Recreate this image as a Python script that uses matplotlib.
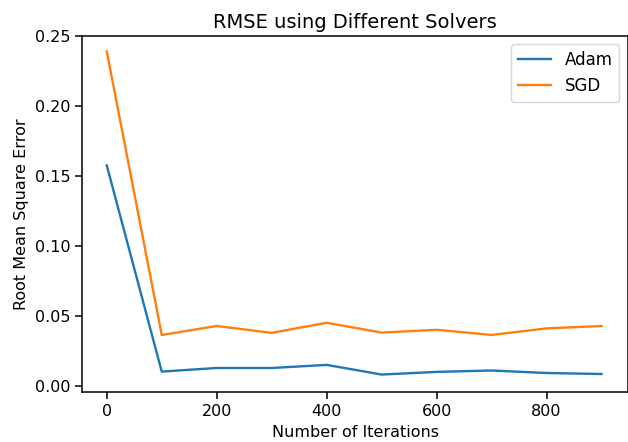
import matplotlib
matplotlib.use("Agg")
import matplotlib.pyplot as plt

# Iterations and RMSE
iterations = [0, 100, 200, 300, 400, 500, 600, 700, 800, 900]
adam_rmse = [0.1575, 0.0101, 0.0127, 0.0127, 0.0149, 0.0080, 0.0099, 0.0109, 0.0091, 0.0084]
sgd_rmse = [0.239, 0.0363, 0.0427, 0.0378, 0.0450, 0.0380, 0.0400, 0.0363, 0.0410, 0.0427]

plt.rcParams.update({
    "axes.linewidth": 1.1,
    "xtick.major.size": 5,
    "ytick.major.size": 5,
    "xtick.major.width": 1.1,
    "ytick.major.width": 1.1,
    "xtick.labelsize": 11.5,
    "ytick.labelsize": 11.5,
    "axes.labelsize": 11.5,
    "axes.titlesize": 14,
    "legend.fontsize": 12,
})

fig, ax = plt.subplots(figsize=(6.28, 4.42), dpi=100)
fig.subplots_adjust(left=0.1306, right=1.0, top=0.9186, bottom=0.1124)

ax.plot(iterations, adam_rmse, label="Adam", lw=1.7)
ax.plot(iterations, sgd_rmse, label="SGD", lw=1.7)

ax.set_title("RMSE using Different Solvers")
ax.set_xlabel("Number of Iterations")
ax.set_ylabel("Root Mean Square Error")
ax.set_yticks([0.0, 0.05, 0.10, 0.15, 0.20, 0.25])
ax.set_ylim(-0.0047, 0.25)
ax.set_xlim(-45, 948)
ax.legend(loc="upper right", bbox_to_anchor=(0.999, 1.0))

plt.savefig("out.png", dpi=100)
